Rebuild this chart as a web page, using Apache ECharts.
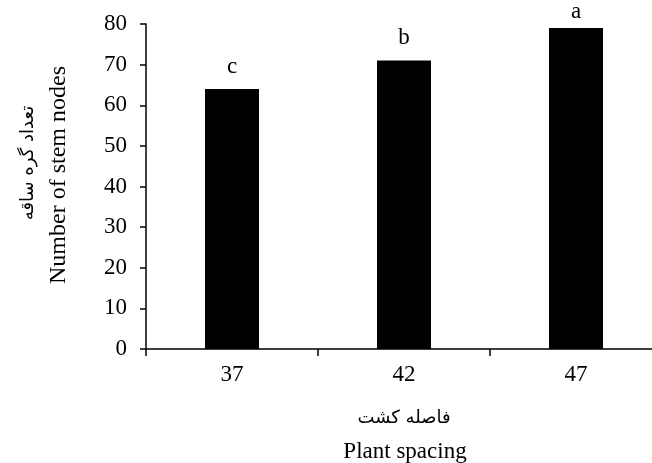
<!DOCTYPE html>
<html>
<head>
<meta charset="utf-8">
<script src="https://cdn.jsdelivr.net/npm/echarts@6/dist/echarts.min.js"></script>
<style>
html,body{margin:0;padding:0;background:#fff;overflow:hidden;}
#c{width:680px;height:463px;}
</style>
</head>
<body>
<div id="c"></div>
<script>
const categories = ['37', '42', '47'];
const values = [64, 71, 79];
const letters = ['c', 'b', 'a'];
const yTicks = [0, 10, 20, 30, 40, 50, 60, 70, 80];

const serif = '"Liberation Serif", "Times New Roman", serif';
const arabic = '"DejaVu Sans", sans-serif';

const chart = echarts.init(document.getElementById('c'), null, {renderer: 'canvas'});
chart.setOption({
  animation: false,
  backgroundColor: '#fff',
  grid: {left: 146, top: 24, width: 516, height: 325, containLabel: false},
  xAxis: {
    type: 'category',
    data: categories,
    boundaryGap: true,
    axisLine: {lineStyle: {color: '#000', width: 1.5}},
    axisTick: {show: true, length: 7, lineStyle: {color: '#000', width: 1.5}},
    axisLabel: {color: '#000', fontFamily: serif, fontSize: 23, margin: 14},
    splitLine: {show: false}
  },
  yAxis: {
    type: 'value',
    min: yTicks[0],
    max: yTicks[yTicks.length - 1],
    interval: 10,
    axisLine: {show: true, lineStyle: {color: '#000', width: 1.5}},
    axisTick: {show: true, length: 6, lineStyle: {color: '#000', width: 1.5}},
    axisLabel: {color: '#000', fontFamily: serif, fontSize: 23, margin: 19},
    splitLine: {show: false}
  },
  series: [{
    type: 'bar',
    data: values.map((v, i) => ({
      value: v,
      label: {formatter: letters[i], distance: i === values.length - 1 ? 5 : 11}
    })),
    barWidth: 54,
    itemStyle: {color: '#000'},
    label: {show: true, position: 'top', color: '#000', fontFamily: serif, fontSize: 23}
  }],
  graphic: [
    {type: 'text', x: 404, y: 418, style: {text: 'فاصله کشت', font: '18px ' + arabic, fill: '#000', textAlign: 'center', textVerticalAlign: 'middle'}},
    {type: 'text', x: 405, y: 452, style: {text: 'Plant spacing', font: '23px ' + serif, fill: '#000', textAlign: 'center', textVerticalAlign: 'middle'}},
    {type: 'text', x: 28, y: 163, rotation: Math.PI / 2, style: {text: 'تعداد گره ساقه', font: '18px ' + arabic, fill: '#000', textAlign: 'center', textVerticalAlign: 'middle'}},
    {type: 'text', x: 59, y: 175, rotation: Math.PI / 2, style: {text: 'Number of stem nodes', font: '24px ' + serif, fill: '#000', textAlign: 'center', textVerticalAlign: 'middle'}}
  ]
});
</script>
</body>
</html>
